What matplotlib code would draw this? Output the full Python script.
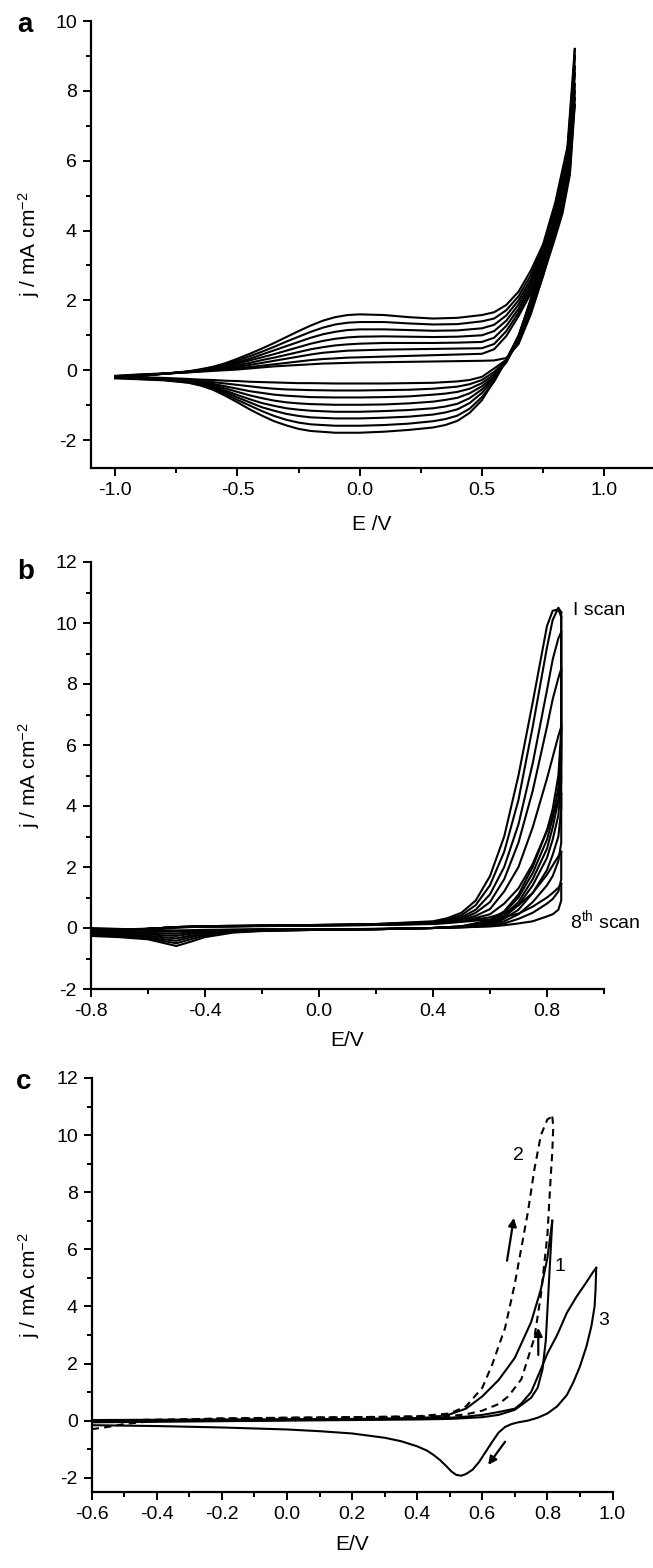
import matplotlib
matplotlib.use("Agg")
import matplotlib.pyplot as plt
from matplotlib.ticker import FixedLocator, FuncFormatter

plt.rcParams['font.family'] = ['Liberation Sans', 'DejaVu Sans']
plt.rcParams['mathtext.default'] = 'regular'
plt.rcParams['axes.unicode_minus'] = False

# ---------------- Panel a data ----------------
a_anodic_x = [-1.0, -0.9, -0.8, -0.7, -0.65, -0.6, -0.55, -0.5, -0.45, -0.4, -0.35, -0.3,
              -0.25, -0.2, -0.15, -0.1, -0.05, 0.0, 0.1, 0.2, 0.3, 0.4, 0.5, 0.55, 0.6,
              0.65, 0.7, 0.75, 0.8, 0.85, 0.88]
a_anodic_1 = [-0.16, -0.12, -0.09, -0.06, -0.04, -0.02, 0.0, 0.02, 0.05, 0.08, 0.11, 0.13,
              0.15, 0.17, 0.19, 0.2, 0.21, 0.22,
              0.23, 0.24, 0.25, 0.26, 0.27, 0.28, 0.35, 0.75, 1.6, 2.7, 4.0, 5.6, 7.6]
a_anodic_2 = [-0.17, -0.13, -0.1, -0.06, -0.03, 0.0, 0.03, 0.06, 0.09, 0.13, 0.17, 0.21,
              0.25, 0.29, 0.32, 0.34, 0.36, 0.37,
              0.39, 0.41, 0.43, 0.45, 0.47, 0.6, 0.98, 1.55, 2.2, 3.0, 4.2, 5.8, 7.8]
a_anodic_3 = [-0.18, -0.14, -0.1, -0.05, -0.02, 0.02, 0.06, 0.1, 0.15, 0.21, 0.27, 0.33,
              0.39, 0.45, 0.5, 0.53, 0.56, 0.57,
              0.59, 0.6, 0.61, 0.62, 0.63, 0.75, 1.12, 1.65, 2.3, 3.1, 4.3, 5.9, 8.0]
a_anodic_4 = [-0.19, -0.15, -0.1, -0.05, -0.01, 0.03, 0.08, 0.14, 0.21, 0.29, 0.36, 0.44,
              0.52, 0.6, 0.66, 0.71, 0.74, 0.76,
              0.78, 0.78, 0.78, 0.79, 0.81, 0.93, 1.27, 1.76, 2.4, 3.2, 4.4, 6.0, 8.2]
a_anodic_5 = [-0.2, -0.15, -0.1, -0.04, 0.0, 0.05, 0.11, 0.19, 0.28, 0.37, 0.46, 0.56,
              0.66, 0.76, 0.84, 0.9, 0.94, 0.96,
              0.97, 0.96, 0.95, 0.96, 1.0, 1.12, 1.42, 1.88, 2.5, 3.3, 4.5, 6.1, 8.5]
a_anodic_6 = [-0.21, -0.16, -0.1, -0.04, 0.0, 0.06, 0.14, 0.23, 0.33, 0.45, 0.57, 0.69,
              0.81, 0.93, 1.03, 1.1, 1.15, 1.17,
              1.17, 1.15, 1.13, 1.14, 1.2, 1.3, 1.57, 2.0, 2.6, 3.4, 4.6, 6.2, 8.7]
a_anodic_7 = [-0.22, -0.16, -0.1, -0.04, 0.01, 0.08, 0.17, 0.28, 0.4, 0.53, 0.67, 0.82,
              0.96, 1.1, 1.22, 1.31, 1.36, 1.38,
              1.38, 1.34, 1.31, 1.32, 1.4, 1.48, 1.72, 2.12, 2.72, 3.5, 4.7, 6.3, 9.0]
a_anodic_8 = [-0.23, -0.17, -0.1, -0.03, 0.03, 0.1, 0.2, 0.33, 0.47, 0.62, 0.78, 0.95,
              1.12, 1.28, 1.42, 1.52, 1.58, 1.6,
              1.58, 1.52, 1.48, 1.5, 1.58, 1.66, 1.87, 2.25, 2.85, 3.6, 4.8, 6.4, 9.2]

a_cath_x = [0.88, 0.86, 0.83, 0.8, 0.75, 0.7, 0.65, 0.6, 0.55, 0.5, 0.45, 0.4, 0.35, 0.3,
            0.2, 0.1, 0.0, -0.1, -0.2, -0.25, -0.3, -0.35, -0.4, -0.45, -0.5, -0.55, -0.6,
            -0.65, -0.7, -0.8, -0.9, -1.0]
a_cath_1 = [7.6, 5.6, 4.5, 3.8, 2.7, 1.65, 0.8, 0.3, 0.05, -0.19, -0.28, -0.32, -0.34, -0.36,
            -0.37, -0.38, -0.38, -0.38, -0.37, -0.37, -0.36, -0.35, -0.34, -0.33, -0.31, -0.3,
            -0.28, -0.27, -0.25, -0.22, -0.2, -0.18]
a_cath_2 = [7.8, 5.7, 4.6, 3.9, 2.8, 1.72, 0.85, 0.28, -0.05, -0.28, -0.4, -0.47, -0.5, -0.53,
            -0.56, -0.57, -0.58, -0.58, -0.57, -0.56, -0.55, -0.53, -0.5, -0.46, -0.42, -0.38,
            -0.34, -0.31, -0.28, -0.24, -0.21, -0.19]
a_cath_3 = [8.0, 5.85, 4.7, 4.0, 2.9, 1.8, 0.88, 0.25, -0.12, -0.37, -0.53, -0.62, -0.67, -0.7,
            -0.75, -0.77, -0.78, -0.78, -0.77, -0.75, -0.73, -0.7, -0.65, -0.6, -0.53, -0.46,
            -0.39, -0.34, -0.3, -0.25, -0.22, -0.2]
a_cath_4 = [8.2, 6.0, 4.8, 4.1, 3.0, 1.85, 0.9, 0.22, -0.18, -0.46, -0.66, -0.79, -0.85, -0.9,
            -0.95, -0.98, -0.99, -0.99, -0.97, -0.95, -0.92, -0.87, -0.8, -0.72, -0.62, -0.52,
            -0.43, -0.36, -0.32, -0.26, -0.23, -0.21]
a_cath_5 = [8.5, 6.1, 4.9, 4.25, 3.1, 1.92, 0.93, 0.28, -0.22, -0.55, -0.8, -0.96, -1.04, -1.09,
            -1.14, -1.17, -1.19, -1.19, -1.16, -1.13, -1.09, -1.02, -0.94, -0.83, -0.71, -0.58,
            -0.47, -0.39, -0.33, -0.27, -0.24, -0.21]
a_cath_6 = [8.7, 6.2, 5.0, 4.3, 3.15, 1.96, 0.97, 0.3, -0.26, -0.65, -0.94, -1.12, -1.21, -1.27,
            -1.33, -1.36, -1.38, -1.38, -1.35, -1.31, -1.25, -1.16, -1.06, -0.92, -0.78, -0.63,
            -0.5, -0.41, -0.34, -0.27, -0.24, -0.22]
a_cath_7 = [9.0, 6.3, 5.05, 4.4, 3.25, 2.0, 1.0, 0.3, -0.33, -0.77, -1.1, -1.3, -1.4, -1.46,
            -1.53, -1.57, -1.59, -1.59, -1.55, -1.5, -1.42, -1.31, -1.17, -1.01, -0.85, -0.68,
            -0.53, -0.43, -0.35, -0.28, -0.25, -0.22]
a_cath_8 = [9.2, 6.4, 5.1, 4.45, 3.3, 2.05, 0.95, 0.3, -0.3, -0.86, -1.22, -1.45, -1.57, -1.64,
            -1.71, -1.76, -1.79, -1.79, -1.74, -1.68, -1.58, -1.46, -1.3, -1.12, -0.92, -0.73,
            -0.56, -0.44, -0.36, -0.29, -0.26, -0.23]

a_anodic = [a_anodic_1, a_anodic_2, a_anodic_3, a_anodic_4, a_anodic_5, a_anodic_6, a_anodic_7, a_anodic_8]
a_cath = [a_cath_1, a_cath_2, a_cath_3, a_cath_4, a_cath_5, a_cath_6, a_cath_7, a_cath_8]

# ---------------- Panel b data ----------------
b_fwd_x = [-0.8, -0.7, -0.6, -0.5, -0.4, -0.3, -0.2, 0.0, 0.2, 0.4, 0.45, 0.5, 0.55,
           0.6, 0.65, 0.7, 0.75, 0.8, 0.82, 0.84, 0.85]
b_fwd_1 = [-0.22, -0.12, -0.03, 0.03, 0.06, 0.07, 0.08, 0.1, 0.13, 0.22, 0.32, 0.5, 0.9,
           1.7, 3.0, 5.0, 7.4, 9.9, 10.4, 10.45, 10.2]
b_fwd_2 = [-0.2, -0.11, -0.03, 0.03, 0.06, 0.07, 0.08, 0.1, 0.13, 0.2, 0.28, 0.42, 0.75,
           1.4, 2.5, 4.2, 6.6, 9.2, 10.1, 10.5, 10.35]
b_fwd_3 = [-0.18, -0.1, -0.03, 0.03, 0.06, 0.07, 0.08, 0.1, 0.12, 0.18, 0.24, 0.35, 0.6,
           1.1, 2.0, 3.4, 5.4, 7.8, 8.8, 9.5, 9.7]
b_fwd_4 = [-0.16, -0.09, -0.03, 0.03, 0.05, 0.06, 0.07, 0.09, 0.11, 0.17, 0.22, 0.3, 0.5,
           0.85, 1.6, 2.8, 4.5, 6.6, 7.5, 8.2, 8.5]
b_fwd_5 = [-0.14, -0.08, -0.03, 0.03, 0.05, 0.06, 0.07, 0.09, 0.11, 0.16, 0.2, 0.27, 0.4,
           0.62, 1.2, 2.0, 3.3, 4.9, 5.6, 6.3, 6.6]
b_fwd_6 = [-0.12, -0.07, -0.03, 0.02, 0.05, 0.06, 0.07, 0.09, 0.1, 0.15, 0.19, 0.24, 0.33,
           0.45, 0.8, 1.3, 2.1, 3.2, 3.7, 4.2, 4.4]
b_fwd_7 = [-0.1, -0.06, -0.03, 0.02, 0.05, 0.06, 0.07, 0.08, 0.1, 0.14, 0.18, 0.22, 0.28,
           0.35, 0.5, 0.75, 1.15, 1.75, 2.05, 2.35, 2.5]
b_fwd_8 = [-0.08, -0.05, -0.02, 0.02, 0.04, 0.05, 0.06, 0.08, 0.1, 0.13, 0.16, 0.2, 0.24,
           0.28, 0.37, 0.47, 0.7, 1.0, 1.15, 1.32, 1.45]

b_rev_x = [0.85, 0.85, 0.84, 0.82, 0.8, 0.75, 0.7, 0.65, 0.6, 0.5, 0.4, 0.2, 0.0, -0.2,
           -0.3, -0.4, -0.45, -0.5, -0.55, -0.6, -0.7, -0.8]
b_rev_1 = [10.2, 6.5, 5.0, 3.9, 3.2, 2.0, 1.1, 0.55, 0.25, 0.06, 0.0, -0.04, -0.06, -0.1,
           -0.15, -0.3, -0.45, -0.59, -0.48, -0.37, -0.3, -0.26]
b_rev_2 = [10.35, 6.0, 4.6, 3.6, 2.9, 1.8, 1.0, 0.5, 0.22, 0.05, 0.0, -0.04, -0.06, -0.09,
           -0.13, -0.25, -0.37, -0.5, -0.42, -0.33, -0.27, -0.24]
b_rev_3 = [9.7, 5.5, 4.2, 3.3, 2.6, 1.6, 0.85, 0.42, 0.18, 0.05, 0.0, -0.04, -0.06, -0.08,
           -0.11, -0.21, -0.3, -0.42, -0.36, -0.29, -0.24, -0.21]
b_rev_4 = [8.5, 4.8, 3.7, 2.9, 2.3, 1.4, 0.75, 0.36, 0.15, 0.04, 0.0, -0.04, -0.06, -0.07,
           -0.1, -0.17, -0.25, -0.34, -0.3, -0.25, -0.2, -0.18]
b_rev_5 = [6.6, 3.9, 3.0, 2.4, 1.9, 1.15, 0.6, 0.3, 0.12, 0.04, 0.0, -0.04, -0.05, -0.06,
           -0.08, -0.13, -0.19, -0.26, -0.24, -0.2, -0.16, -0.14]
b_rev_6 = [4.4, 2.8, 2.2, 1.7, 1.4, 0.85, 0.45, 0.22, 0.1, 0.03, 0.0, -0.03, -0.05, -0.05,
           -0.07, -0.1, -0.14, -0.19, -0.18, -0.15, -0.12, -0.1]
b_rev_7 = [2.5, 1.6, 1.2, 0.95, 0.8, 0.5, 0.3, 0.15, 0.07, 0.02, 0.0, -0.03, -0.05, -0.05,
           -0.06, -0.08, -0.1, -0.12, -0.12, -0.1, -0.07, -0.05]
b_rev_8 = [1.45, 0.9, 0.6, 0.45, 0.38, 0.22, 0.15, 0.09, 0.05, 0.02, 0.0, -0.03, -0.04, -0.04,
           -0.05, -0.06, -0.07, -0.08, -0.07, -0.06, -0.03, 0.0]

b_fwd = [b_fwd_1, b_fwd_2, b_fwd_3, b_fwd_4, b_fwd_5, b_fwd_6, b_fwd_7, b_fwd_8]
b_rev = [b_rev_1, b_rev_2, b_rev_3, b_rev_4, b_rev_5, b_rev_6, b_rev_7, b_rev_8]

# ---------------- Panel c data ----------------
c1_fwd_x = [-0.6, -0.4, -0.2, 0.0, 0.2, 0.4, 0.45, 0.5, 0.55, 0.6, 0.65, 0.7, 0.75, 0.78, 0.8, 0.815]
c1_fwd_y = [0.02, 0.03, 0.04, 0.05, 0.06, 0.09, 0.12, 0.22, 0.42, 0.85, 1.42, 2.2, 3.45, 4.6, 5.7, 7.0]
c1_rev_x = [0.815, 0.805, 0.795, 0.785, 0.77, 0.75, 0.7, 0.65, 0.6, 0.5, 0.4, 0.2, 0.0, -0.2, -0.4, -0.6]
c1_rev_y = [7.0, 4.9, 2.8, 1.8, 1.15, 0.8, 0.38, 0.2, 0.12, 0.06, 0.04, 0.02, 0.0, -0.02, -0.04, -0.06]

c2_fwd_x = [-0.6, -0.55, -0.5, -0.4, -0.2, 0.0, 0.2, 0.4, 0.5, 0.55, 0.6, 0.63, 0.67,
            0.7, 0.74, 0.76, 0.78, 0.8, 0.815]
c2_fwd_y = [-0.3, -0.22, -0.12, 0.0, 0.08, 0.1, 0.12, 0.15, 0.25, 0.5, 1.15, 1.95, 3.25,
            4.8, 7.3, 8.8, 10.0, 10.55, 10.65]
c2_rev_x = [0.815, 0.818, 0.815, 0.81, 0.8, 0.78, 0.76, 0.72, 0.68, 0.65, 0.6, 0.55, 0.5,
            0.3, 0.0, -0.3, -0.6]
c2_rev_y = [10.65, 10.3, 9.4, 8.5, 6.5, 4.4, 2.9, 1.45, 0.85, 0.58, 0.35, 0.22, 0.16,
            0.13, 0.1, 0.05, 0.0]

c3_fwd_x = [-0.6, -0.4, -0.2, 0.0, 0.2, 0.4, 0.5, 0.55, 0.6, 0.65, 0.7, 0.72, 0.75, 0.78,
            0.8, 0.83, 0.86, 0.89, 0.92, 0.94, 0.95]
c3_fwd_y = [-0.04, -0.02, 0.0, 0.02, 0.04, 0.07, 0.1, 0.14, 0.2, 0.3, 0.42, 0.6, 1.0, 1.8,
            2.35, 3.0, 3.78, 4.35, 4.85, 5.2, 5.35]
c3_rev_x = [0.95, 0.948, 0.945, 0.935, 0.92, 0.9, 0.88, 0.86, 0.83, 0.8, 0.77, 0.74, 0.71,
            0.69, 0.67, 0.65, 0.63, 0.61, 0.59, 0.57, 0.55, 0.535, 0.52, 0.505, 0.49, 0.47,
            0.45, 0.43, 0.4, 0.35, 0.3, 0.2, 0.1, 0.0, -0.2, -0.4, -0.6]
c3_rev_y = [5.35, 4.6, 4.0, 3.3, 2.6, 1.9, 1.35, 0.9, 0.5, 0.25, 0.1, 0.0, -0.06,
            -0.12, -0.22, -0.42, -0.75, -1.1, -1.45, -1.72, -1.87, -1.93, -1.9, -1.78, -1.6, -1.38,
            -1.2, -1.05, -0.9, -0.72, -0.6, -0.45, -0.37, -0.31, -0.24, -0.19, -0.16]

# ---------------- figure ----------------
W, H = 653, 1568
fig = plt.figure(figsize=(W / 100, H / 100), dpi=100)


def axes_px(left, top, right, bottom):
    return fig.add_axes([left / W, 1 - bottom / H, (right - left) / W, (bottom - top) / H])


def fmt1(v, p):
    return f"{round(v, 3) + 0:.1f}"


def fmt0(v, p):
    return f"{int(round(v))}"


def style(ax, xmaj, xmin, ymaj, ymin):
    for s in ['top', 'right']:
        ax.spines[s].set_visible(False)
    for s in ['left', 'bottom']:
        ax.spines[s].set_linewidth(1.6)
    ax.xaxis.set_major_locator(FixedLocator(xmaj))
    ax.xaxis.set_minor_locator(FixedLocator(xmin))
    ax.yaxis.set_major_locator(FixedLocator(ymaj))
    ax.yaxis.set_minor_locator(FixedLocator(ymin))
    ax.xaxis.set_major_formatter(FuncFormatter(fmt1))
    ax.yaxis.set_major_formatter(FuncFormatter(fmt0))
    ax.tick_params(which='major', direction='out', length=6, width=1.4, labelsize=14, pad=4)
    ax.tick_params(which='minor', direction='out', length=3.5, width=1.4)


LW = 1.5

# Panel a
axa = axes_px(90.8, 21, 653, 468)
for an, ca in zip(a_anodic, a_cath):
    axa.plot(a_anodic_x, an, color='black', lw=LW)
    axa.plot(a_cath_x, ca, color='black', lw=LW)
axa.set_xlim(-1.1, 1.2)
axa.set_ylim(-2.8, 10)
style(axa, [-1.0, -0.5, 0.0, 0.5, 1.0], [-0.75, -0.25, 0.25, 0.75],
      [-2, 0, 2, 4, 6, 8, 10], [-1, 1, 3, 5, 7, 9])

# Panel b
axb = axes_px(90.8, 562, 604, 989)
for fw, rv in zip(b_fwd, b_rev):
    axb.plot(b_fwd_x, fw, color='black', lw=LW)
    axb.plot(b_rev_x, rv, color='black', lw=LW)
axb.set_xlim(-0.8, 1.0)
axb.set_ylim(-2, 12)
style(axb, [-0.8, -0.4, 0.0, 0.4, 0.8], [-0.6, -0.2, 0.2, 0.6, 1.0],
      [-2, 0, 2, 4, 6, 8, 10, 12], [-1, 1, 3, 5, 7, 9, 11])
axb.text(0.89, 10.4, "I scan", fontsize=14, ha='left', va='center')
axb.text(0.88, 0.26, "8$^{th}$ scan", fontsize=14, ha='left', va='center')

# Panel c
DASH = (0, (3.5, 2.5))
axc = axes_px(91.7, 1078, 612.5, 1492)
axc.plot(c1_fwd_x, c1_fwd_y, color='black', lw=LW)
axc.plot(c1_rev_x, c1_rev_y, color='black', lw=LW)
axc.plot(c2_fwd_x, c2_fwd_y, color='black', lw=LW, linestyle=DASH)
axc.plot(c2_rev_x, c2_rev_y, color='black', lw=LW, linestyle=DASH)
axc.plot(c3_fwd_x, c3_fwd_y, color='black', lw=LW)
axc.plot(c3_rev_x, c3_rev_y, color='black', lw=LW)
axc.set_xlim(-0.6, 1.0)
axc.set_ylim(-2.5, 12)
style(axc, [-0.6, -0.4, -0.2, 0.0, 0.2, 0.4, 0.6, 0.8, 1.0],
      [-0.5, -0.3, -0.1, 0.1, 0.3, 0.5, 0.7, 0.9],
      [-2, 0, 2, 4, 6, 8, 10, 12], [-1, 1, 3, 5, 7, 9, 11])
axc.text(0.71, 9.3, "2", fontsize=14, ha='center', va='center')
axc.text(0.838, 5.4, "1", fontsize=14, ha='center', va='center')
axc.text(0.973, 3.5, "3", fontsize=14, ha='center', va='center')
arrow_kw = dict(arrowstyle='-|>', color='black', lw=1.6, mutation_scale=12, shrinkA=0, shrinkB=0)
axc.annotate("", xy=(0.697, 7.1), xytext=(0.676, 5.6), arrowprops=arrow_kw)
axc.annotate("", xy=(0.772, 3.25), xytext=(0.772, 2.3), arrowprops=arrow_kw)
axc.annotate("", xy=(0.618, -1.55), xytext=(0.67, -0.74), arrowprops=arrow_kw)

# axis labels
for (top, bot, lab_y, cx, xl) in [(21, 468, 525, 372, "E /V"),
                                   (562, 989, 1040, 347, "E/V"),
                                   (1078, 1492, 1545, 352, "E/V")]:
    fig.text(29 / W, 1 - (top + bot) / 2 / H, "j / mA cm$^{-2}$", rotation=90,
             fontsize=15, ha='center', va='center')
    fig.text(cx / W, 1 - lab_y / H, xl, fontsize=15, ha='center', va='center')

for lab, x, y in [("a", 25, 25), ("b", 26, 572), ("c", 24, 1082)]:
    fig.text(x / W, 1 - y / H, lab, fontsize=20, fontweight='bold', ha='center', va='center')

fig.savefig("out.png", dpi=100)
